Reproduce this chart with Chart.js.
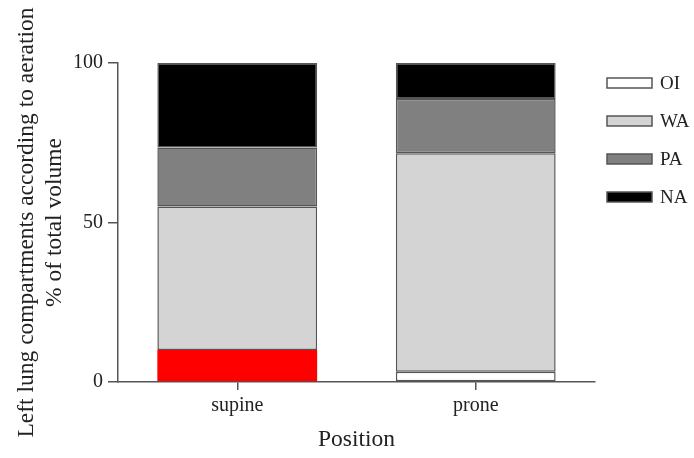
<!DOCTYPE html>
<html>
<head>
<meta charset="utf-8">
<script src="https://cdn.jsdelivr.net/npm/chart.js@4"></script>
<style>
  html, body { margin: 0; padding: 0; background: #ffffff; }
  #wrap { width: 694px; height: 458px; }
</style>
</head>
<body>
<div id="wrap"><canvas id="c" width="694" height="458"></canvas></div>
<script>
const categories = ['supine', 'prone'];
const seriesNames = ['OI', 'WA', 'PA', 'NA'];
const valuesOI = [10, 3.2];
const valuesWA = [45, 68.5];
const valuesPA = [18.5, 17];
const valuesNA = [26.5, 11.3];
const yTicks = [0, 50, 100];

const FONT = "'Liberation Serif', 'Times New Roman', serif";
const EDGE = '#555555';

const legendPlugin = {
  id: 'sideLegend',
  afterDraw(chart) {
    const ctx = chart.ctx;
    ctx.save();
    chart.data.datasets.forEach((ds, i) => {
      const cy = 83 + i * 38;
      ctx.fillStyle = ds.legendFill;
      ctx.fillRect(607, cy - 5, 45, 10);
      ctx.strokeStyle = EDGE;
      ctx.lineWidth = 1.5;
      ctx.strokeRect(607, cy - 5, 45, 10);
      ctx.fillStyle = '#222';
      ctx.font = "19px " + FONT;
      ctx.textBaseline = 'middle';
      ctx.textAlign = 'left';
      ctx.fillText(ds.label, 660, cy + 1);
    });
    ctx.restore();
  }
};

const common = { borderColor: EDGE, borderWidth: 1.5, borderSkipped: false, barPercentage: 0.67, categoryPercentage: 1 };

new Chart(document.getElementById('c'), {
  type: 'bar',
  data: {
    labels: categories,
    datasets: [
      Object.assign({}, common, { label: seriesNames[0], data: valuesOI, backgroundColor: ['#ff0000', '#ffffff'], borderWidth: [0, 1.5], legendFill: '#ffffff' }),
      Object.assign({}, common, { label: seriesNames[1], data: valuesWA, backgroundColor: '#d4d4d4', legendFill: '#d4d4d4' }),
      Object.assign({}, common, { label: seriesNames[2], data: valuesPA, backgroundColor: '#808080', legendFill: '#808080' }),
      Object.assign({}, common, { label: seriesNames[3], data: valuesNA, backgroundColor: '#000000', legendFill: '#000000' })
    ]
  },
  options: {
    responsive: false,
    animation: false,
    layout: { padding: { top: 63, right: 99, left: 0, bottom: 0 } },
    plugins: { legend: { display: false }, tooltip: { enabled: false } },
    scales: {
      x: {
        stacked: true,
        offset: true,
        afterFit(s) { s.height = 76; },
        grid: { display: true, offset: false, drawOnChartArea: false, drawTicks: true, tickLength: 8, color: EDGE, lineWidth: 1.5 },
        border: { display: true, color: EDGE, width: 1.5 },
        ticks: { color: '#222', font: { family: FONT, size: 20 }, padding: 4 },
        title: { display: true, text: 'Position', color: '#222', font: { family: FONT, size: 23.5, lineHeight: 1.2 }, padding: { top: 0, bottom: 4 } }
      },
      y: {
        stacked: true,
        min: 0,
        max: 100,
        afterFit(s) { s.width = 118; },
        afterBuildTicks(s) { s.ticks = yTicks.map(v => ({ value: v })); },
        grid: { display: true, drawOnChartArea: false, drawTicks: true, tickLength: 10, color: EDGE, lineWidth: 1.5 },
        border: { display: true, color: EDGE, width: 1.5 },
        ticks: { color: '#222', font: { family: FONT, size: 20 }, padding: 5 },
        title: { display: true, text: ['Left lung compartments according to aeration', '% of total volume'], color: '#222', font: { family: FONT, size: 23.5, lineHeight: 1.19 }, padding: { top: 13, bottom: 0 } }
      }
    }
  },
  plugins: [legendPlugin]
});
</script>
</body>
</html>
